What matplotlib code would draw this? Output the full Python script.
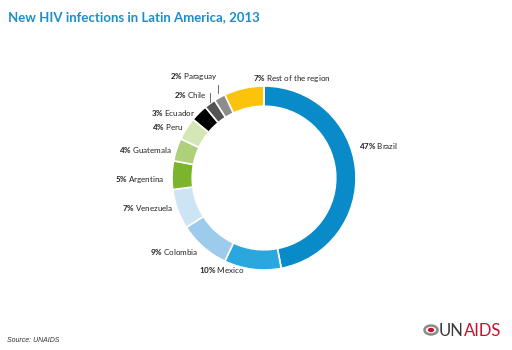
import matplotlib.pyplot as plt
from matplotlib.patches import Circle

plt.rcParams['font.family'] = ['Lato', 'DejaVu Sans']
plt.rcParams['mathtext.fontset'] = 'custom'
plt.rcParams['mathtext.bf'] = 'Lato:bold'
plt.rcParams['mathtext.rm'] = 'Lato'

countries = ["Brazil", "Mexico", "Colombia", "Venezuela", "Argentina", "Guatemala",
             "Peru", "Ecuador", "Chile", "Paraguay", "Rest of the region"]
shares = [47, 10, 9, 7, 5, 4, 4, 3, 2, 2, 7]
colors = ["#0a8bc9", "#2aa7dc", "#9ccbeb", "#cde4f4", "#7cb52d", "#aed07a",
          "#d6e7b6", "#000000", "#555555", "#8c8c8c", "#fcc30c"]

# label anchors in pixels (x, y, ha)
label_pos = [(359, 146, 'left'), (199, 270, 'left'), (198, 252, 'right'),
             (173, 208, 'right'), (164, 180, 'right'), (172, 150, 'right'),
             (183, 127, 'right'), (195, 113, 'right'), (207, 95, 'right'),
             (218, 77, 'right'), (253, 78, 'left')]

W, H = 512, 350
fig = plt.figure(figsize=(W / 100, H / 100), dpi=100)

cx, cy, r = 264, 178, 92
ax = fig.add_axes([(cx - r) / W, (H - cy - r) / H, 2 * r / W, 2 * r / H])
ax.pie(shares, colors=colors, startangle=90, counterclock=False, radius=1,
       wedgeprops=dict(width=0.22, edgecolor='white', linewidth=1.2))
ax.set_xlim(-1, 1)
ax.set_ylim(-1, 1)
ax.set_aspect('equal')
ax.axis('off')

def fx(x):
    return x / W

def fy(y):
    return 1 - y / H

for name, v, (x, y, ha) in zip(countries, shares, label_pos):
    fig.text(fx(x), fy(y), r"$\mathbf{" + str(v) + r"\%}$ " + name, ha=ha, va='center',
             fontsize=5.8, color='#222222')

# leader lines for Chile and Paraguay
fig.add_artist(plt.Line2D([fx(210), fx(210)], [fy(93), fy(102)], color='#555555', lw=0.6))
fig.add_artist(plt.Line2D([fx(218), fx(218)], [fy(85), fy(93)], color='#555555', lw=0.6))

fig.text(fx(8), fy(17), "New HIV infections in Latin America, 2013", fontsize=9.5,
         fontweight='bold', color='#1c8ec9', va='center', ha='left')
fig.text(fx(7), fy(340), "Source: UNAIDS", fontsize=5, style='italic',
         color='#333333', va='center', ha='left', family=['Liberation Sans'])

# logo
un = fig.text(fx(439), fy(331), "UN", fontsize=12, color='#3a3a3a', ha='left', va='center')
fig.canvas.draw()
bb = un.get_window_extent()
fig.text(bb.x1 / W, fy(331), "AIDS", fontsize=12, color='#c8102e', ha='left', va='center')
fig.add_artist(Circle((fx(431), fy(330)), 6.5 / W, transform=fig.transFigure,
                      facecolor='white', edgecolor='#8a8a8a', lw=1.8))
fig.add_artist(Circle((fx(431), fy(330)), 3.2 / W, transform=fig.transFigure,
                      facecolor='#c8102e', edgecolor='none'))

fig.savefig("out.png", dpi=100)
